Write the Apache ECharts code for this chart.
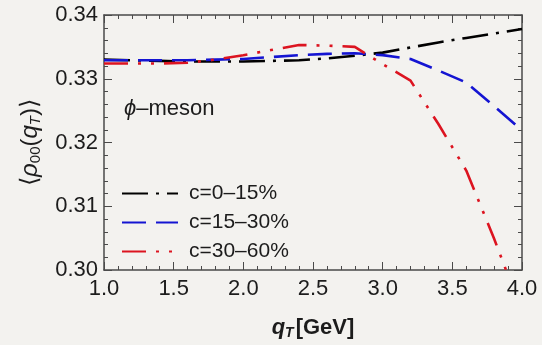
<!DOCTYPE html>
<html>
<head>
<meta charset="utf-8">
<script src="https://cdn.jsdelivr.net/npm/echarts@6/dist/echarts.min.js"></script>
<style>
  html, body { margin: 0; padding: 0; background: #f3f2ef; }
  #chart { width: 542px; height: 345px; }
</style>
</head>
<body>
<div id="chart"></div>
<script>
// Transverse-momentum grid (GeV)
const qT = [1.0, 1.2, 1.4, 1.6, 1.8, 2.0, 2.2, 2.4, 2.6, 2.8, 3.0, 3.2, 3.4, 3.6, 3.8, 4.0];

// <rho_00(q_T)> for the three centrality classes
const rhoC0_15  = [0.3330, 0.3329, 0.3328, 0.3327, 0.3327, 0.3327, 0.3328, 0.3329, 0.3332, 0.3336, 0.3341, 0.3349, 0.3357, 0.3364, 0.3371, 0.3378];
const rhoC15_30 = [0.3329, 0.3329, 0.3329, 0.3329, 0.3330, 0.3331, 0.3334, 0.3337, 0.3339, 0.3340, 0.3337, 0.3331, 0.3313, 0.3294, 0.3257, 0.3219];
const rhoC30_60 = [0.3324, 0.3324, 0.3324, 0.3325, 0.3330, 0.3337, 0.3345, 0.3353, 0.3352, 0.3350, 0.3323, 0.3297, 0.3229, 0.3156, 0.3049, 0.2934];

const seriesNames = ['c=0\u201315%', 'c=15\u201330%', 'c=30\u201360%'];

// Axis tick labels
const xTicks = [1.0, 1.5, 2.0, 2.5, 3.0, 3.5, 4.0];
const yTicks = [0.30, 0.31, 0.32, 0.33, 0.34];

const pairs = ys => qT.map((x, i) => [x, ys[i]]);

const frame = '#4a4a4a';
const txt = '#1c1c1c';
const font = '"Liberation Sans", Arial, sans-serif';

const tickCommon = {
  axisLine: { show: true, onZero: false, lineStyle: { color: frame, width: 1.5 } },
  axisTick: { show: true, inside: true, length: 8, lineStyle: { color: frame, width: 1 } },
  minorTick: { show: true, splitNumber: 5, length: 4, lineStyle: { color: frame, width: 1 } },
  splitLine: { show: false }
};

const chart = echarts.init(document.getElementById('chart'), null, { renderer: 'canvas' });

chart.setOption({
  backgroundColor: '#f3f2ef',
  animation: false,
  textStyle: { fontFamily: font },
  grid: { left: 104, right: 20, top: 15, bottom: 71 },
  title: {
    text: '{it|\u03d5}\u2013meson',
    left: 119, top: 93,
    textStyle: {
      fontFamily: font, fontSize: 22, fontWeight: 'normal', color: txt,
      rich: { it: { fontStyle: 'italic', fontSize: 22, fontFamily: font, color: txt } }
    }
  },
  legend: {
    orient: 'vertical',
    left: 116, top: 178,
    itemWidth: 56, itemHeight: 14, itemGap: 8,
    itemStyle: { opacity: 0 },
    textStyle: { fontSize: 21, color: txt, fontFamily: font, padding: [0, 0, 0, 6] },
    data: seriesNames
  },
  xAxis: [
    Object.assign({
      type: 'value', min: 1.0, max: 4.0, interval: 0.5,
      name: '{it|q}{sub|T}[GeV]',
      nameLocation: 'middle', nameGap: 46,
      nameTextStyle: {
        fontSize: 22, fontWeight: 'bold', color: txt, fontFamily: font,
        rich: {
          it: { fontStyle: 'italic', fontWeight: 'bold', fontSize: 22, color: txt, fontFamily: font },
          sub: { fontStyle: 'italic', fontWeight: 'bold', fontSize: 14, color: txt, fontFamily: font, padding: [10, 2, 0, 0] }
        }
      },
      axisLabel: {
        fontSize: 22, color: txt, margin: 8, fontFamily: font,
        formatter: v => xTicks.some(t => Math.abs(t - v) < 1e-9) ? v.toFixed(1) : ''
      }
    }, tickCommon),
    Object.assign({
      type: 'value', position: 'top', min: 1.0, max: 4.0, interval: 0.5,
      axisLabel: { show: false }
    }, tickCommon)
  ],
  yAxis: [
    Object.assign({
      type: 'value', min: 0.30, max: 0.34, interval: 0.01,
      name: '\u27e8{it|\u03c1}{sub|00}({it|q}{subit|T})\u27e9',
      nameLocation: 'middle', nameGap: 61, nameRotate: 90,
      nameTextStyle: {
        fontSize: 24, color: txt, fontFamily: font,
        rich: {
          it: { fontStyle: 'italic', fontSize: 24, color: txt, fontFamily: font },
          sub: { fontSize: 15, color: txt, fontFamily: font, padding: [11, 0, 0, 0] },
          subit: { fontStyle: 'italic', fontSize: 15, color: txt, fontFamily: font, padding: [11, 0, 0, 0] }
        }
      },
      axisLabel: {
        fontSize: 22, color: txt, margin: 6, fontFamily: font,
        formatter: v => yTicks.some(t => Math.abs(t - v) < 1e-9) ? v.toFixed(2) : ''
      }
    }, tickCommon),
    Object.assign({
      type: 'value', position: 'right', min: 0.30, max: 0.34, interval: 0.01,
      axisLabel: { show: false }
    }, tickCommon)
  ],
  series: [
    {
      name: seriesNames[0], type: 'line', data: pairs(rhoC0_15),
      symbol: 'none', clip: true,
      lineStyle: { color: '#000000', width: 2.6, type: [26, 8, 3, 8], cap: 'butt' },
      itemStyle: { color: '#000000' }
    },
    {
      name: seriesNames[1], type: 'line', data: pairs(rhoC15_30),
      symbol: 'none', clip: true,
      lineStyle: { color: '#1414d2', width: 2.6, type: [24, 10], cap: 'butt' },
      itemStyle: { color: '#1414d2' }
    },
    {
      name: seriesNames[2], type: 'line', data: pairs(rhoC30_60),
      symbol: 'none', clip: true,
      lineStyle: { color: '#dc1420', width: 2.6, type: [24, 10, 3, 10, 3, 10], cap: 'butt' },
      itemStyle: { color: '#dc1420' }
    }
  ]
});
</script>
</body>
</html>
